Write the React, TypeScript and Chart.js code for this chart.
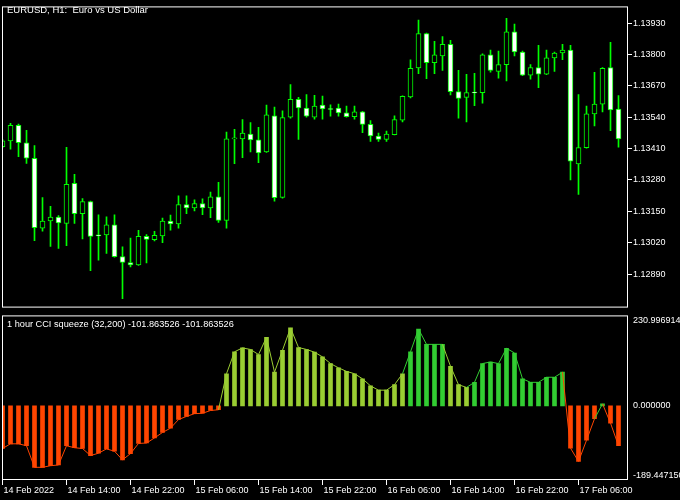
import React, { useEffect, useRef } from "react";
import { Chart, registerables } from "chart.js";
Chart.register(...registerables);

// ---- time axis ----
const timeTickIndex = [0, 8, 16, 24, 32, 40, 48, 56, 64, 72];
const timeTickLabels = [
  "14 Feb 2022", "14 Feb 14:00", "14 Feb 22:00", "15 Feb 06:00", "15 Feb 14:00",
  "15 Feb 22:00", "16 Feb 06:00", "16 Feb 14:00", "16 Feb 22:00", "17 Feb 06:00",
];

// ---- EURUSD H1 candles ----
const opens = [
  1.13418, 1.13442, 1.13506, 1.13434, 1.13370, 1.13080, 1.13110, 1.13126, 1.13100, 1.13266,
  1.13140, 1.13190, 1.13052, 1.13052, 1.13094, 1.12962, 1.12938, 1.12928, 1.13046, 1.13032,
  1.13048, 1.13110, 1.13098, 1.13178, 1.13164, 1.13182, 1.13164, 1.13210, 1.13112, 1.13450,
  1.13450, 1.13470, 1.13446, 1.13396, 1.13546, 1.13208, 1.13540, 1.13614, 1.13578, 1.13540,
  1.13590, 1.13576, 1.13578, 1.13558, 1.13542, 1.13562, 1.13510, 1.13462, 1.13448, 1.13468,
  1.13528, 1.13624, 1.13744, 1.13886, 1.13766, 1.13794, 1.13842, 1.13646, 1.13622, 1.13644,
  1.13642, 1.13798, 1.13730, 1.13758, 1.13894, 1.13810, 1.13714, 1.13746, 1.13718, 1.13786,
  1.13806, 1.13818, 1.13346, 1.13414, 1.13554, 1.13594, 1.13746, 1.13574,
];
const highs = [
  1.13447, 1.13514, 1.13511, 1.13486, 1.13422, 1.13207, 1.13171, 1.13132, 1.13415, 1.13303,
  1.13203, 1.13192, 1.13135, 1.13127, 1.13135, 1.13003, 1.13039, 1.13071, 1.13054, 1.13067,
  1.13122, 1.13134, 1.13214, 1.13214, 1.13198, 1.13202, 1.13230, 1.13270, 1.13478, 1.13490,
  1.13530, 1.13518, 1.13498, 1.13590, 1.13582, 1.13566, 1.13675, 1.13622, 1.13634, 1.13631,
  1.13627, 1.13591, 1.13594, 1.13586, 1.13586, 1.13564, 1.13526, 1.13474, 1.13482, 1.13546,
  1.13628, 1.13778, 1.13942, 1.13888, 1.13854, 1.13874, 1.13858, 1.13734, 1.13718, 1.13722,
  1.13802, 1.13818, 1.13814, 1.13950, 1.13926, 1.13814, 1.13758, 1.13838, 1.13818, 1.13810,
  1.13842, 1.13838, 1.13634, 1.13586, 1.13726, 1.13746, 1.13850, 1.13630,
];
const lows = [
  1.13415, 1.13407, 1.13376, 1.13348, 1.13028, 1.13068, 1.13004, 1.12996, 1.13008, 1.13100,
  1.13036, 1.12904, 1.12948, 1.12976, 1.12960, 1.12788, 1.12920, 1.12926, 1.12936, 1.13027,
  1.13020, 1.13072, 1.13080, 1.13140, 1.13152, 1.13136, 1.13124, 1.13104, 1.13080, 1.13347,
  1.13372, 1.13396, 1.13352, 1.13394, 1.13192, 1.13204, 1.13536, 1.13448, 1.13540, 1.13532,
  1.13532, 1.13544, 1.13544, 1.13540, 1.13532, 1.13476, 1.13440, 1.13440, 1.13440, 1.13466,
  1.13520, 1.13620, 1.13720, 1.13700, 1.13720, 1.13734, 1.13632, 1.13536, 1.13520, 1.13588,
  1.13598, 1.13726, 1.13702, 1.13690, 1.13794, 1.13712, 1.13698, 1.13662, 1.13716, 1.13730,
  1.13778, 1.13280, 1.13220, 1.13412, 1.13504, 1.13562, 1.13484, 1.13416,
];
const closes = [
  1.13442, 1.13506, 1.13434, 1.13370, 1.13082, 1.13110, 1.13126, 1.13102, 1.13262, 1.13140,
  1.13190, 1.13046, 1.13048, 1.13094, 1.12962, 1.12938, 1.12928, 1.13046, 1.13034, 1.13050,
  1.13110, 1.13098, 1.13178, 1.13164, 1.13182, 1.13164, 1.13210, 1.13112, 1.13450, 1.13454,
  1.13474, 1.13446, 1.13392, 1.13550, 1.13206, 1.13538, 1.13614, 1.13578, 1.13544, 1.13586,
  1.13574, 1.13572, 1.13558, 1.13542, 1.13562, 1.13510, 1.13462, 1.13448, 1.13470, 1.13530,
  1.13626, 1.13742, 1.13886, 1.13766, 1.13798, 1.13842, 1.13646, 1.13618, 1.13642, 1.13640,
  1.13798, 1.13734, 1.13758, 1.13894, 1.13810, 1.13714, 1.13746, 1.13718, 1.13786, 1.13806,
  1.13818, 1.13358, 1.13414, 1.13554, 1.13594, 1.13742, 1.13570, 1.13450,
];
const priceTicks = [1.1289, 1.1302, 1.1315, 1.1328, 1.1341, 1.1354, 1.1367, 1.138, 1.1393];
const priceMin = 1.12751;
const priceMax = 1.13999;

// ---- 1 hour CCI squeeze ----
const cciValues = [
  -109, -97, -97, -102, -157, -157, -153, -151, -102, -107,
  -109, -127, -121, -110, -116, -138, -122, -96, -95, -82,
  -68, -57, -35, -27, -20, -19, -12, -10, 82, 138,
  148, 144, 131, 175, 86, 142, 199, 149, 144, 137,
  125, 108, 97, 88, 82, 69, 51, 40, 40, 54,
  82, 138, 196, 157, 157, 157, 101, 54, 47, 60,
  108, 112, 108, 147, 135, 69, 60, 60, 73, 73,
  86, -108, -142, -88, -33, 5, -44, -101.863526,
];
// r = down (OrangeRed), y = YellowGreen, g = LimeGreen
const cciColorKeys = [
  "r", "r", "r", "r", "r", "r", "r", "r", "r", "r",
  "r", "r", "r", "r", "r", "r", "r", "r", "r", "r",
  "r", "r", "r", "r", "r", "r", "r", "r", "y", "y",
  "y", "y", "y", "y", "y", "y", "y", "y", "y", "y",
  "y", "y", "y", "y", "y", "y", "y", "y", "y", "y",
  "y", "g", "g", "g", "g", "g", "y", "y", "y", "g",
  "g", "g", "g", "g", "g", "g", "g", "g", "g", "g",
  "g", "r", "r", "r", "r", "g", "r", "r",
];
const cciMin = -189.44715;
const cciMax = 230.996914;
const cciTickValues = [-178.2, 0, 218.3];
const cciTickLabels = ["-189.447150", "0.000000", "230.996914"];

const xMin = -0.0625;
const xMax = 78.1875;

const COLORS: Record<string, string> = { r: "#ff4500", y: "#9acd32", g: "#32cd32" };
const FONT = "'Liberation Sans', Arial, sans-serif";

const framePlugin = {
  id: "frame",
  afterDraw(chart: any) {
    const { ctx, chartArea: a } = chart;
    ctx.save();
    ctx.strokeStyle = "#ffffff";
    ctx.lineWidth = 1;
    ctx.strokeRect(a.left + 0.5, a.top + 0.5, a.right - a.left - 1, a.bottom - a.top - 1);
    ctx.restore();
  },
};

export default function App() {
  const topRef = useRef<HTMLCanvasElement>(null);
  const botRef = useRef<HTMLCanvasElement>(null);

  useEffect(() => {
    const idx = opens.map((_, i) => i);
    const wickData = idx.map((i) => ({ x: i, y: [lows[i], highs[i]] }));
    const bodyData = idx.map((i) => ({
      x: i,
      y: [Math.min(opens[i], closes[i]), Math.max(opens[i], closes[i])],
    }));
    const bodyColors = idx.map((i) => (closes[i] < opens[i] ? "#ffffff" : "#000000"));

    const xScale = {
      type: "linear",
      min: xMin,
      max: xMax,
      bounds: "data",
      offset: false,
    };

    const top = new Chart(topRef.current!, {
      type: "bar",
      data: {
        datasets: [
          {
            type: "bar",
            data: wickData as any,
            backgroundColor: "#00ff00",
            borderWidth: 0,
            barThickness: 1,
            grouped: false,
            order: 2,
          } as any,
          {
            type: "bar",
            data: bodyData as any,
            backgroundColor: bodyColors,
            borderColor: "#00ff00",
            borderWidth: 1,
            borderSkipped: false,
            barThickness: 5,
            grouped: false,
            order: 1,
          } as any,
        ],
      },
      options: {
        responsive: false,
        animation: false,
        devicePixelRatio: 1,
        layout: { padding: { left: 2, top: 2, right: 0, bottom: 0 } },
        plugins: { legend: { display: false }, tooltip: { enabled: false } },
        scales: {
          x: { ...xScale, display: false, grid: { offset: false } },
          y: {
            position: "right",
            min: priceMin,
            max: priceMax,
            afterFit: (s: any) => { s.width = 52; },
            afterBuildTicks: (s: any) => { s.ticks = priceTicks.map((v) => ({ value: v })); },
            ticks: {
              color: "#ffffff",
              font: { family: FONT, size: 9 },
              padding: 1,
              callback: (v: any) => Number(v).toFixed(5),
            },
            grid: { drawOnChartArea: false, color: "#ffffff", tickLength: 4 },
            border: { display: false },
          },
        },
      } as any,
      plugins: [framePlugin],
    });

    const bot = new Chart(botRef.current!, {
      type: "bar",
      data: {
        datasets: [
          {
            type: "line",
            data: cciValues.map((v, i) => ({ x: i, y: v })) as any,
            borderWidth: 1,
            pointRadius: 0,
            tension: 0,
            borderColor: COLORS.r,
            segment: { borderColor: (c: any) => COLORS[cciColorKeys[c.p1DataIndex]] },
            order: 0,
          } as any,
          {
            type: "bar",
            data: cciValues.map((v, i) => ({ x: i, y: v })) as any,
            backgroundColor: cciColorKeys.map((k) => COLORS[k]),
            borderWidth: 0,
            barThickness: 4,
            grouped: false,
            order: 1,
          } as any,
        ],
      },
      options: {
        responsive: false,
        animation: false,
        devicePixelRatio: 1,
        layout: { padding: { left: 2, top: 10, right: 0, bottom: 0 } },
        plugins: { legend: { display: false }, tooltip: { enabled: false } },
        scales: {
          x: {
            ...xScale,
            position: "bottom",
            afterFit: (s: any) => { s.height = 20; },
            afterBuildTicks: (s: any) => { s.ticks = timeTickIndex.map((v) => ({ value: v })); },
            ticks: {
              color: "#ffffff",
              font: { family: FONT, size: 9 },
              align: "start",
              padding: 0,
              labelOffset: 1,
              maxRotation: 0,
              autoSkip: false,
              callback: (v: any) => timeTickLabels[timeTickIndex.indexOf(Number(v))],
            },
            grid: { drawOnChartArea: false, color: "#ffffff", tickLength: 5, offset: false },
            border: { display: false },
          },
          y: {
            position: "right",
            min: cciMin,
            max: cciMax,
            afterFit: (s: any) => { s.width = 52; },
            afterBuildTicks: (s: any) => { s.ticks = cciTickValues.map((v) => ({ value: v })); },
            ticks: {
              color: "#ffffff",
              font: { family: FONT, size: 9 },
              padding: 5,
              callback: (v: any) => cciTickLabels[cciTickValues.indexOf(Number(v))],
            },
            grid: { display: false, drawTicks: false },
            border: { display: false },
          },
        },
      } as any,
      plugins: [framePlugin],
    });

    return () => {
      top.destroy();
      bot.destroy();
    };
  }, []);

  const textStyle: React.CSSProperties = {
    position: "absolute",
    color: "#ffffff",
    fontFamily: FONT,
    whiteSpace: "pre",
    lineHeight: "11px",
  };

  return (
    <div style={{ position: "fixed", left: 0, top: 0, width: 680, height: 500, background: "#000000", overflow: "hidden" }}>
      <canvas ref={topRef} width={680} height={314} style={{ position: "absolute", left: 0, top: 0 }} />
      <canvas ref={botRef} width={680} height={195} style={{ position: "absolute", left: 0, top: 305 }} />
      <div style={{ ...textStyle, left: 7, top: 4, fontSize: 9.5 }}>{"EURUSD, H1:  Euro vs US Dollar"}</div>
      <div style={{ ...textStyle, left: 7, top: 319, fontSize: 9.2 }}>
        {"1 hour CCI squeeze (32,200) -101.863526 -101.863526"}
      </div>
    </div>
  );
}
